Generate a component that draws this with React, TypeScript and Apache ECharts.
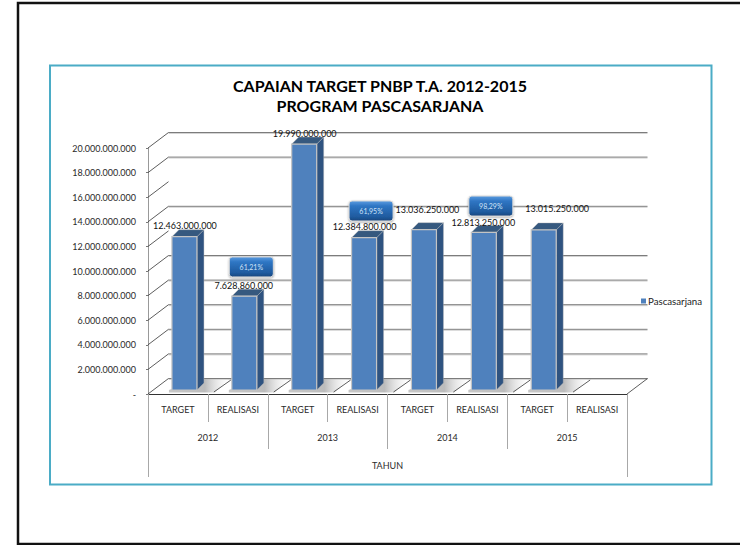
import React, { useEffect, useRef } from "react";
import * as echarts from "echarts";

const titleLines = ["CAPAIAN TARGET PNBP T.A. 2012-2015", "PROGRAM PASCASARJANA"];
const seriesName = "Pascasarjana";
const periodLabels = ["TARGET", "REALISASI", "TARGET", "REALISASI", "TARGET", "REALISASI", "TARGET", "REALISASI"];
const yearLabels = ["2012", "2013", "2014", "2015"];
const outerAxisLabels = ["TAHUN"];
const barValues: (number | null)[] = [12463000000, 7628860000, 19990000000, 12384800000, 13036250000, 12813250000, 13015250000, null];
const axisTicks = [0, 2e9, 4e9, 6e9, 8e9, 10e9, 12e9, 14e9, 16e9, 18e9, 20e9];
const backWallLines = [0, 2e9, 4e9, 6e9, 8e9, 10e9, 14e9, 18e9, 20e9];
const calloutCategories = [1, 3, 5];
const calloutLevels = [10.33e9, 14.88e9, 15.28e9];
const calloutTexts = ["61,21%", "61,95%", "98,29%"];

// label offsets in pixels from the top of each bar's value position
const labelNudges = [[7, -15], [6, -15], [7, -15], [7, -15], [10, -24], [6, -14], [20, -25], [0, 0]];

const FONT = "Lato, Carlito, 'Open Sans', sans-serif";
const DEPTH_X = 20.5;
const DEPTH_Y = 15.5;
const BAR_SHIFT_X = 6.5;
const BAR_SHIFT_Y = 4;
const BAR_W = 25;
const BAR_D = 7;

const fmt = (v: number) => (v === 0 ? "-" : String(v).replace(/\B(?=(\d{3})+(?!\d))/g, "."));

export default function App() {
  const ref = useRef<HTMLDivElement>(null);
  useEffect(() => {
    const chart = echarts.init(ref.current!, undefined, { renderer: "svg" });
    const barRows = barValues.map((v, i) => [i, v]);
    const grid = { left: 148, right: 113, top: 148, bottom: 151 };
    const makeX = (data: string[], tick: number, margin: number, line: boolean) => ({
      type: "category",
      position: "bottom",
      data,
      boundaryGap: true,
      axisLine: { show: line, onZero: false, lineStyle: { color: "#333", width: 1 } },
      axisTick: { show: true, length: tick, interval: 0, alignWithLabel: false, lineStyle: { color: "#a8a8a8", width: 1 } },
      axisLabel: { interval: 0, margin, color: "#2a2a2a", fontFamily: FONT, fontSize: 9 },
      splitLine: { show: false },
    });

    chart.setOption({
      animation: false,
      backgroundColor: "#fff",
      title: {
        text: titleLines.join("\n"),
        left: 375,
        top: 70,
        textAlign: "center",
        textStyle: { fontFamily: FONT, fontSize: 16, fontWeight: "bold", color: "#000", lineHeight: 20 },
      },
      legend: {
        data: [{ name: seriesName, icon: "rect", itemStyle: { color: "#4f81bd" } }],
        left: 641,
        top: 296,
        itemWidth: 5,
        itemHeight: 5,
        itemGap: 2,
        padding: 0,
        textStyle: { fontFamily: FONT, fontSize: 9.7, color: "#222", padding: [0, 0, 0, -3] },
      },
      grid,
      xAxis: [
        makeX(periodLabels, 28, 11, true),
        makeX(yearLabels, 55, 39, false),
        makeX(outerAxisLabels, 83, 67, false),
      ],
      yAxis: {
        type: "value",
        min: 0,
        max: 20e9,
        interval: 2e9,
        axisLine: { show: true, lineStyle: { color: "#999", width: 1 } },
        axisTick: { show: true, length: 2, lineStyle: { color: "#777" } },
        axisLabel: { margin: 12, color: "#2a2a2a", fontFamily: FONT, fontSize: 9, formatter: fmt },
        splitLine: { show: false },
      },
      graphic: [
        { type: "polyline", silent: true, z: -1, shape: { points: [[740, 3], [18, 3], [18, 544], [740, 544]] }, style: { stroke: "#111", lineWidth: 2.5, fill: "none" } },
        { type: "rect", silent: true, z: -1, shape: { x: 50, y: 65.5, width: 661.5, height: 419 }, style: { stroke: "#4bacc6", lineWidth: 2, fill: "none" } },
      ],
      series: [
        {
          type: "custom",
          name: "walls",
          silent: true,
          z: 1,
          data: backWallLines.map((v) => [0, v]),
          renderItem: (params: any, api: any) => {
            const cs = params.coordSys;
            const y = api.coord([0, api.value(1)])[1] - DEPTH_Y;
            const x1 = cs.x + DEPTH_X;
            const x2 = cs.x + cs.width + DEPTH_X;
            return {
              type: "group",
              children: [
                { type: "line", shape: { x1, y1: y + 1, x2, y2: y + 1 }, style: { stroke: "#d4d4d4", lineWidth: 1 } },
                { type: "line", shape: { x1, y1: y, x2, y2: y }, style: { stroke: "#7c7c7c", lineWidth: 1 } },
              ],
            };
          },
        },
        {
          type: "custom",
          name: "sideTicks",
          silent: true,
          z: 1,
          data: axisTicks.map((v) => [0, v]),
          renderItem: (params: any, api: any) => {
            const cs = params.coordSys;
            const y = api.coord([0, api.value(1)])[1];
            return {
              type: "line",
              shape: { x1: cs.x, y1: y, x2: cs.x + DEPTH_X, y2: y - DEPTH_Y },
              style: { stroke: "#333", lineWidth: 0.8 },
            };
          },
        },
        {
          type: "custom",
          name: "floor",
          silent: true,
          z: 2,
          data: periodLabels.map((_, i) => [i, 0]),
          renderItem: (params: any, api: any) => {
            const i = api.value(0);
            const c = api.coord([i, 0]);
            const half = api.size([1, 0])[0] / 2;
            const lx = c[0] - half;
            const children: any[] = [];
            if (i > 0) {
              children.push({ type: "line", shape: { x1: lx + 6, y1: c[1] - 2, x2: lx + 23, y2: c[1] - 14 }, style: { stroke: "#333", lineWidth: 0.8 } });
            }
            if (i === periodLabels.length - 1) {
              children.push({ type: "line", shape: { x1: lx + 2 * half, y1: c[1], x2: lx + 2 * half + DEPTH_X, y2: c[1] - DEPTH_Y }, style: { stroke: "#333", lineWidth: 0.8 } });
            }
            if (barValues[i] != null) {
              const left = c[0] + BAR_SHIFT_X - BAR_W / 2;
              children.push({
                type: "polygon",
                shape: { points: [[left - 3, c[1] - 1.5], [left + BAR_W + 18, c[1] - 1.5], [left + BAR_W + 32, c[1] - 15], [left + BAR_W, c[1] - 15], [left - 3, c[1] - 4]] },
                style: {
                  fill: new echarts.graphic.LinearGradient(0, 0, 1, 0, [
                    { offset: 0, color: "#c8c8c8" },
                    { offset: 0.6, color: "#bcbcbc" },
                    { offset: 1, color: "rgba(240,240,240,0.1)" },
                  ]),
                },
              });
            }
            return { type: "group", children };
          },
        },
        {
          type: "custom",
          name: seriesName,
          silent: true,
          z: 3,
          itemStyle: { color: "#4f81bd" },
          data: barRows,
          renderItem: (_params: any, api: any) => {
            const v = api.value(1);
            if (v == null || isNaN(v)) return null;
            const top = api.coord([api.value(0), v]);
            const base = api.coord([api.value(0), 0]);
            const l = top[0] + BAR_SHIFT_X - BAR_W / 2;
            const r = l + BAR_W;
            const t = top[1] - BAR_SHIFT_Y;
            const b = base[1] - BAR_SHIFT_Y;
            return {
              type: "group",
              children: [
                { type: "polygon", shape: { points: [[r, t], [r + BAR_D, t - BAR_D], [r + BAR_D, b - BAR_D], [r, b]] }, style: { fill: "#2f5380", stroke: "#b5b5b5", lineWidth: 0.4 } },
                { type: "polygon", shape: { points: [[l, t], [l + BAR_D, t - BAR_D], [r + BAR_D, t - BAR_D], [r, t]] }, style: { fill: "#36597f", stroke: "#b5b5b5", lineWidth: 0.4 } },
                { type: "rect", shape: { x: l, y: t, width: BAR_W, height: b - t }, style: { fill: "#4f81bd", stroke: "#c4c4c4", lineWidth: 1.2 } },
              ],
            };
          },
        },
        {
          type: "custom",
          name: "callouts",
          silent: true,
          z: 4,
          data: calloutCategories.map((c, i) => [c, calloutLevels[i], calloutTexts[i]]),
          renderItem: (_params: any, api: any) => {
            const c = api.coord([api.value(0), api.value(1)]);
            const cx = c[0] + 13.5;
            const cy = c[1];
            const text = calloutTexts[_params.dataIndex];
            return {
              type: "group",
              children: [
                {
                  type: "rect",
                  shape: { x: cx - 22, y: cy - 10, width: 44, height: 20, r: 3 },
                  style: {
                    fill: new echarts.graphic.LinearGradient(0, 0, 0, 1, [
                      { offset: 0, color: "#5a9be0" },
                      { offset: 0.25, color: "#2f76c4" },
                      { offset: 0.8, color: "#1f5a9e" },
                      { offset: 1, color: "#17457c" },
                    ]),
                    stroke: "#d9d9d9",
                    lineWidth: 1,
                    shadowColor: "rgba(0,0,0,0.35)",
                    shadowBlur: 2,
                    shadowOffsetY: 1,
                  },
                },
                { type: "text", style: { text, x: cx, y: cy, align: "center", verticalAlign: "middle", fill: "#cfe3f8", font: `7px ${FONT}` } },
              ],
            };
          },
        },
        {
          type: "custom",
          name: "valueLabels",
          silent: true,
          z: 5,
          data: barRows,
          renderItem: (params: any, api: any) => {
            const v = api.value(1);
            if (v == null || isNaN(v)) return null;
            const top = api.coord([api.value(0), v]);
            const n = labelNudges[params.dataIndex];
            return {
              type: "text",
              style: { text: fmt(v), x: top[0] + n[0], y: top[1] + n[1], align: "center", verticalAlign: "middle", fill: "#111", font: `9px ${FONT}` },
            };
          },
        },
      ],
    });
    return () => chart.dispose();
  }, []);
  return <div ref={ref} style={{ position: "fixed", left: 0, top: 0, width: 740, height: 545 }} />;
}
